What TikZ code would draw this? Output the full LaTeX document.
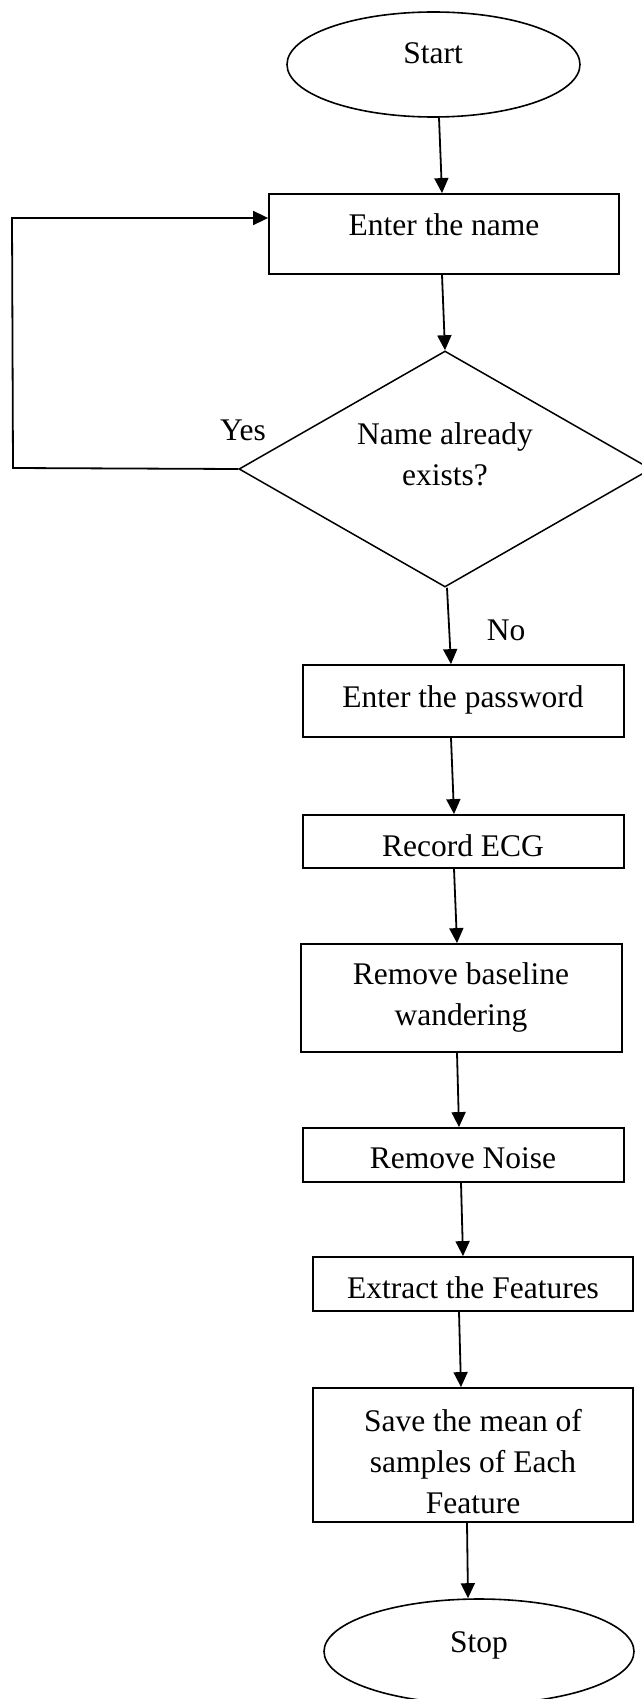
\documentclass[tikz,border=0pt]{standalone}
\usepackage{fontspec}
\setmainfont{Liberation Serif}
\usetikzlibrary{shapes.geometric,arrows.meta}
\begin{document}
\begin{tikzpicture}[x=1pt,y=-1pt,
  box/.style={draw, line width=1.8pt, rectangle, inner sep=0pt},
  term/.style={draw, line width=1.6pt, ellipse, inner sep=0pt},
  decision/.style={draw, line width=1.5pt, diamond, inner sep=0pt},
  flow/.style={line width=1.8pt, -{Triangle[length=15pt,width=14pt]}},
  txt/.style={inner sep=0pt, anchor=base, align=center,
              font=\fontsize{31.5}{41}\selectfont},
]
\useasboundingbox (0,0) rectangle (642,1699);
\clip (0,0) rectangle (642,1699);

% shapes of the flowchart
\node[term, minimum width=293pt, minimum height=105pt] (start) at (433.5,64.5) {};
\node[box, minimum width=350pt, minimum height=80pt] (name) at (444,234) {};
\node[decision, minimum width=412pt, minimum height=236pt] (check) at (445,469) {};
\node[box, minimum width=321pt, minimum height=72pt] (pass) at (463.5,701) {};
\node[box, minimum width=321pt, minimum height=53pt] (ecg) at (463.5,841.5) {};
\node[box, minimum width=321pt, minimum height=108pt] (base) at (461.5,998) {};
\node[box, minimum width=321pt, minimum height=54pt] (noise) at (463.5,1155) {};
\node[box, minimum width=320pt, minimum height=54pt] (extract) at (473,1284) {};
\node[box, minimum width=320pt, minimum height=134pt] (save) at (473,1455) {};
\node[term, minimum width=310pt, minimum height=105pt] (stop) at (479,1651.5) {};

% texts (multi-line texts are anchored at the baseline of their last line)
\node[txt] (tstart) at (433,64) {Start};
\node[txt] (tname) at (444,235) {Enter the name};
\node[txt] (tcheck) at (445,485) {Name already\\exists?};
\node[txt] (tyes) at (243,440) {Yes};
\node[txt] (tno) at (506,640) {No};
\node[txt] (tpass) at (463,707) {Enter the password};
\node[txt] (tecg) at (463,856) {Record ECG};
\node[txt] (tbase) at (461,1025) {Remove baseline\\wandering};
\node[txt] (tnoise) at (463,1168) {Remove Noise};
\node[txt] (textract) at (473,1298) {Extract the Features};
\node[txt] (tsave) at (473,1513) {Save the mean of\\samples of Each\\Feature};
\node[txt] (tstop) at (479,1652) {Stop};

% main flow
\draw[flow] ([xshift=5.5pt]start.south) -- ([xshift=-2pt]name.north);
\draw[flow] ([xshift=-2pt]name.south) -- (check.north);
\draw[flow] ([xshift=2pt]check.south) -- ([xshift=-12.5pt]pass.north);
\draw[flow] ([xshift=-12.5pt]pass.south) -- ([xshift=-9.5pt]ecg.north);
\draw[flow] ([xshift=-9.5pt]ecg.south) -- ([xshift=-4.5pt]base.north);
\draw[flow] ([xshift=-4.5pt]base.south) -- ([xshift=-4.5pt]noise.north);
\draw[flow] ([xshift=-2.5pt]noise.south) -- ([xshift=-10pt]extract.north);
\draw[flow] ([xshift=-14pt]extract.south) -- ([xshift=-12pt]save.north);
\draw[flow] ([xshift=-6pt]save.south) -- ([xshift=-11pt]stop.north);

% "Yes" branch back to the name entry
\coordinate (loopbot) at (13,468);
\coordinate (looptop) at (12,218);
\draw[flow] (check.west) -- (loopbot) -- (looptop) -- ([yshift=16pt]name.west);
\end{tikzpicture}
\end{document}
